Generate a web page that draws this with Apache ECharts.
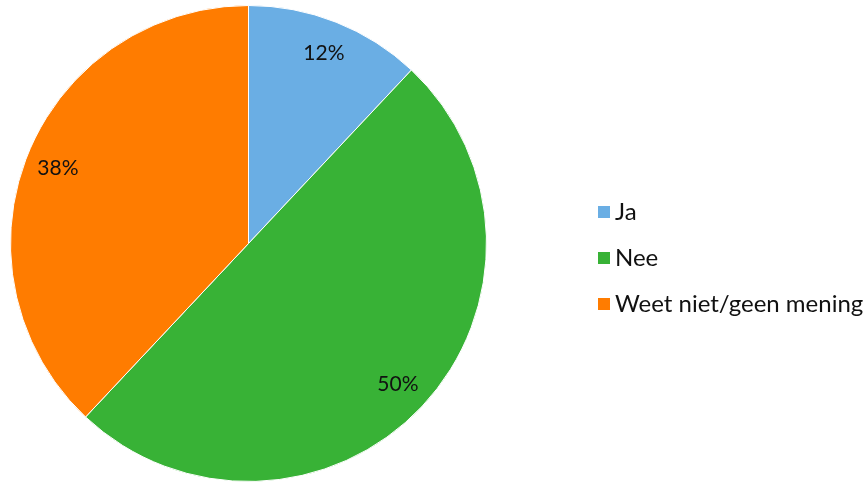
<!DOCTYPE html>
<html>
<head>
<meta charset="utf-8">
<script src="https://cdn.jsdelivr.net/npm/echarts@6/dist/echarts.min.js"></script>
<style>
  html, body { margin: 0; padding: 0; background: #ffffff; }
  #chart { width: 867px; height: 482px; }
</style>
</head>
<body>
<div id="chart"></div>
<script>
// Answer categories and their shares (percent)
const categories = ['Ja', 'Nee', 'Weet niet/geen mening'];
const values = [12, 50, 38];
const colors = ['#6aaee4', '#38b236', '#ff7c00'];

const FONT = 'Lato, "Open Sans", sans-serif';
const data = categories.map((name, i) => ({ name, value: values[i], itemStyle: { color: colors[i] } }));

const chart = echarts.init(document.getElementById('chart'), null, { renderer: 'canvas' });
chart.setOption({
  animation: false,
  legend: {
    orient: 'vertical',
    left: 591,
    top: 195,
    itemWidth: 14,
    itemHeight: 14,
    itemGap: 22,
    icon: 'rect',
    data: categories,
    textStyle: { fontFamily: FONT, fontSize: 24, lineHeight: 24, color: '#111111', padding: [0, 0, 0, -1] }
  },
  series: [
    {
      // the visible pie
      type: 'pie',
      center: [248.5, 243.5],
      radius: [0, 238],
      startAngle: 90,
      clockwise: true,
      silent: true,
      label: { show: false },
      labelLine: { show: false },
      itemStyle: { borderColor: '#ffffff', borderWidth: 1 },
      data: data
    },
    {
      // transparent ring used only to place the percentage labels
      type: 'pie',
      center: [248.5, 243.5],
      radius: [166, 238],
      startAngle: 90,
      clockwise: true,
      silent: true,
      legendHoverLink: false,
      itemStyle: { color: 'rgba(0,0,0,0)' },
      label: {
        show: true,
        position: 'inside',
        formatter: p => p.value + '%',
        fontFamily: FONT,
        fontSize: 21,
        color: '#111111'
      },
      labelLine: { show: false },
      data: categories.map((name, i) => ({ name, value: values[i], itemStyle: { color: 'rgba(0,0,0,0)' } }))
    }
  ]
});
</script>
</body>
</html>
